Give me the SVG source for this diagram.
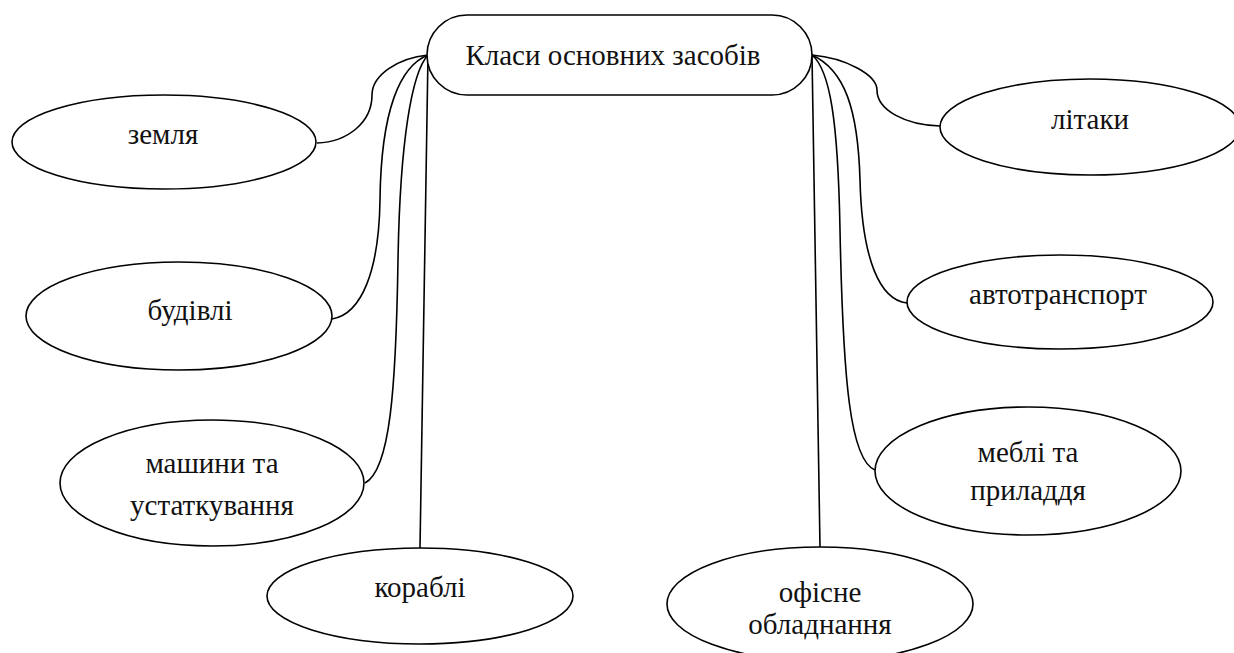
<svg xmlns="http://www.w3.org/2000/svg" width="1234" height="653" viewBox="0 0 1234 653">
  <style>
    .shape { fill: #fff; stroke: #000; stroke-width: 1.6; }
    .link { fill: none; stroke: #000; stroke-width: 1.6; }
    .label { font-family: "Liberation Serif", "DejaVu Serif", "Noto Serif", serif; font-size: 29px; fill: #111; text-anchor: middle; }
  </style>
  <rect width="1234" height="653" fill="#fff"/>

  <g id="connectors">
    <!-- left branches, all leaving the left end of the root -->
    <path class="link" d="M428,55 C398,58 372,75 372,95 C372,122 348,142 317,143"/>
    <path class="link" d="M428,55 C400,66 381,110 380,200 C379,270 362,314 332,319"/>
    <path class="link" d="M428,55 C412,72 400,140 398,260 C396,390 390,470 365,483"/>
    <path class="link" d="M428,55 L420,548"/>
    <!-- right branches, all leaving the right end of the root -->
    <path class="link" d="M812,55 C846,58 877,75 877,90 C877,110 905,125 940,126"/>
    <path class="link" d="M812,55 C845,70 858,110 860,180 C862,260 880,300 907,303"/>
    <path class="link" d="M812,55 C830,70 838,120 840,230 C843,380 850,460 875,470"/>
    <path class="link" d="M812,55 L820,547"/>
  </g>

  <g id="root">
    <rect class="shape" x="427" y="15" width="385" height="80" rx="40" ry="40"/>
    <text class="label" x="613" y="65">Класи основних засобів</text>
  </g>

  <g id="node-zemlia">
    <ellipse class="shape" cx="164" cy="142" rx="152" ry="47"/>
    <text class="label" x="163" y="144">земля</text>
  </g>

  <g id="node-budivli">
    <ellipse class="shape" cx="179" cy="316" rx="153" ry="54"/>
    <text class="label" x="190" y="320">будівлі</text>
  </g>

  <g id="node-mashyny">
    <ellipse class="shape" cx="212" cy="483" rx="152" ry="63"/>
    <text class="label" x="212" y="473">машини та</text>
    <text class="label" x="212" y="515">устаткування</text>
  </g>

  <g id="node-korabli">
    <ellipse class="shape" cx="420" cy="596" rx="153" ry="48"/>
    <text class="label" x="420" y="597">кораблі</text>
  </g>

  <g id="node-litaky">
    <ellipse class="shape" cx="1090" cy="127" rx="150" ry="48"/>
    <text class="label" x="1090" y="129">літаки</text>
  </g>

  <g id="node-avtotransport">
    <ellipse class="shape" cx="1060" cy="302" rx="153" ry="47"/>
    <text class="label" x="1058" y="304">автотранспорт</text>
  </g>

  <g id="node-mebli">
    <ellipse class="shape" cx="1028" cy="471" rx="153" ry="64"/>
    <text class="label" x="1028" y="462">меблі та</text>
    <text class="label" x="1028" y="500">приладдя</text>
  </g>

  <g id="node-ofisne">
    <ellipse class="shape" cx="820" cy="604" rx="153" ry="57"/>
    <text class="label" x="820" y="602">офісне</text>
    <text class="label" x="820" y="634">обладнання</text>
  </g>
</svg>
